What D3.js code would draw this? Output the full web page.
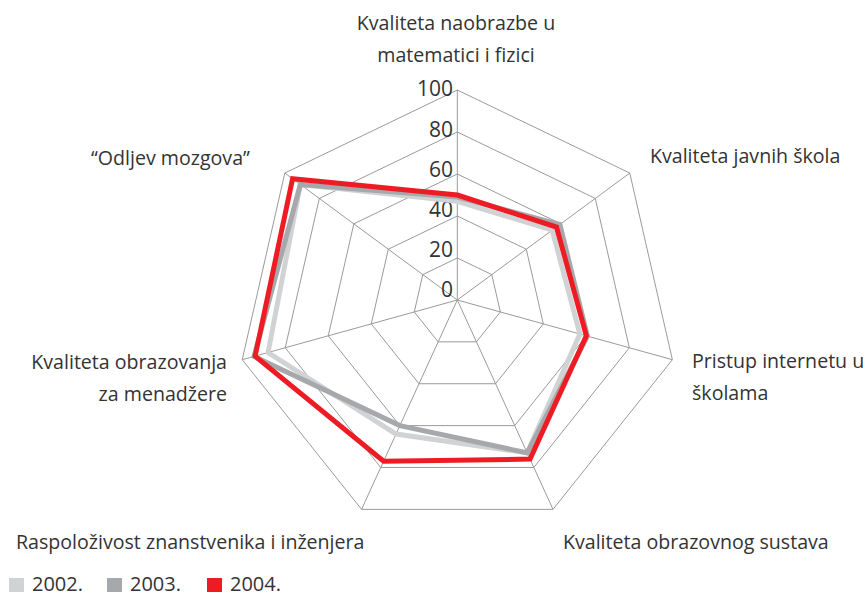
<!DOCTYPE html>
<html>
<head>
<meta charset="utf-8">
<script src="https://cdn.jsdelivr.net/npm/d3@7"></script>
<style>
html,body{margin:0;padding:0;background:#fff;}
svg{display:block;font-family:"Open Sans","Noto Sans",sans-serif;}
</style>
</head>
<body>
<svg id="chart" width="863" height="598"></svg>
<script>
const categories = [
  "Kvaliteta naobrazbe u matematici i fizici",
  "Kvaliteta javnih škola",
  "Pristup internetu u školama",
  "Kvaliteta obrazovnog sustava",
  "Raspoloživost znanstvenika i inženjera",
  "Kvaliteta obrazovanja za menadžere",
  "“Odljev mozgova”"
];
const seriesNames = ["2002.", "2003.", "2004."];
const values2002 = [47, 55, 57, 73, 64, 88, 91];
const values2003 = [49, 59.5, 60.5, 73, 60, 94.5, 91];
const values2004 = [50, 57.5, 60, 76, 77, 94, 95.5];
const tickValues = [0, 20, 40, 60, 80, 100];
const colors = ["#d1d2d4", "#a7a8ab", "#ed1c24"];

const svg = d3.select("#chart");
const cx = 457.3, cyOrigin = 300, cyOuter = 310.6, R = 220.6;
const n = categories.length;
const angle = d3.scaleLinear().domain([0, n]).range([0, 2 * Math.PI]);
const r = d3.scaleLinear().domain([0, 100]).range([0, 1]);
const outer = i => [cx + R * Math.sin(angle(i)), cyOuter - R * Math.cos(angle(i))];
const pt = (i, v) => {
  const o = outer(i), f = r(v);
  return [cx + f * (o[0] - cx), cyOrigin + f * (o[1] - cyOrigin)];
};
const line = d3.line().curve(d3.curveLinearClosed);

const grid = svg.append("g").attr("fill", "none").attr("stroke", "#9a9a9a").attr("stroke-width", 1);
tickValues.filter(t => t > 0).forEach(t => {
  grid.append("path").attr("d", line(d3.range(n).map(i => pt(i, t))));
});
d3.range(n).forEach(i => {
  const o = pt(i, 100);
  grid.append("line").attr("x1", cx).attr("y1", cyOrigin).attr("x2", o[0]).attr("y2", o[1]);
});

const tickY = d3.scaleLinear().domain([0, 100]).range([290, 89]);
svg.append("g").selectAll("text").data(tickValues).join("text")
  .attr("x", 453).attr("y", d => tickY(d)).attr("dy", "0.35em")
  .attr("text-anchor", "end").attr("font-size", 21).attr("fill", "#333")
  .text(d => d);

const allSeries = [values2002, values2003, values2004];
svg.append("g").selectAll("path").data(allSeries).join("path")
  .attr("d", vals => line(vals.map((v, i) => pt(i, v))))
  .attr("fill", "none")
  .attr("stroke", (d, k) => colors[k])
  .attr("stroke-width", 5)
  .attr("stroke-linejoin", "miter");

const labelLayout = [
  {lines: ["Kvaliteta naobrazbe u", "matematici i fizici"], x: 456, y: 23, anchor: "middle"},
  {lines: ["Kvaliteta javnih škola"], x: 650, y: 156, anchor: "start"},
  {lines: ["Pristup internetu u", "školama"], x: 692, y: 361, anchor: "start"},
  {lines: ["Kvaliteta obrazovnog sustava"], x: 563, y: 542, anchor: "start"},
  {lines: ["Raspoloživost znanstvenika i inženjera"], x: 16, y: 542, anchor: "start"},
  {lines: ["Kvaliteta obrazovanja", "za menadžere"], x: 227, y: 362, anchor: "end"},
  {lines: ["“Odljev mozgova”"], x: 91, y: 158, anchor: "start"}
];
const lg = svg.append("g").attr("font-size", 19.6).attr("fill", "#333");
labelLayout.forEach((L, i) => {
  L.lines.forEach((t, j) => {
    lg.append("text").attr("x", L.x).attr("y", L.y + j * 32).attr("dy", "0.35em")
      .attr("text-anchor", L.anchor).text(t);
  });
});

const legendX = [9, 107, 207];
const leg = svg.append("g");
seriesNames.forEach((s, k) => {
  leg.append("rect").attr("x", legendX[k]).attr("y", 578).attr("width", 15).attr("height", 14).attr("fill", colors[k]);
  leg.append("text").attr("x", legendX[k] + 23).attr("y", 584).attr("dy", "0.35em")
    .attr("font-size", 20).attr("fill", "#333").text(s);
});
</script>
</body>
</html>
